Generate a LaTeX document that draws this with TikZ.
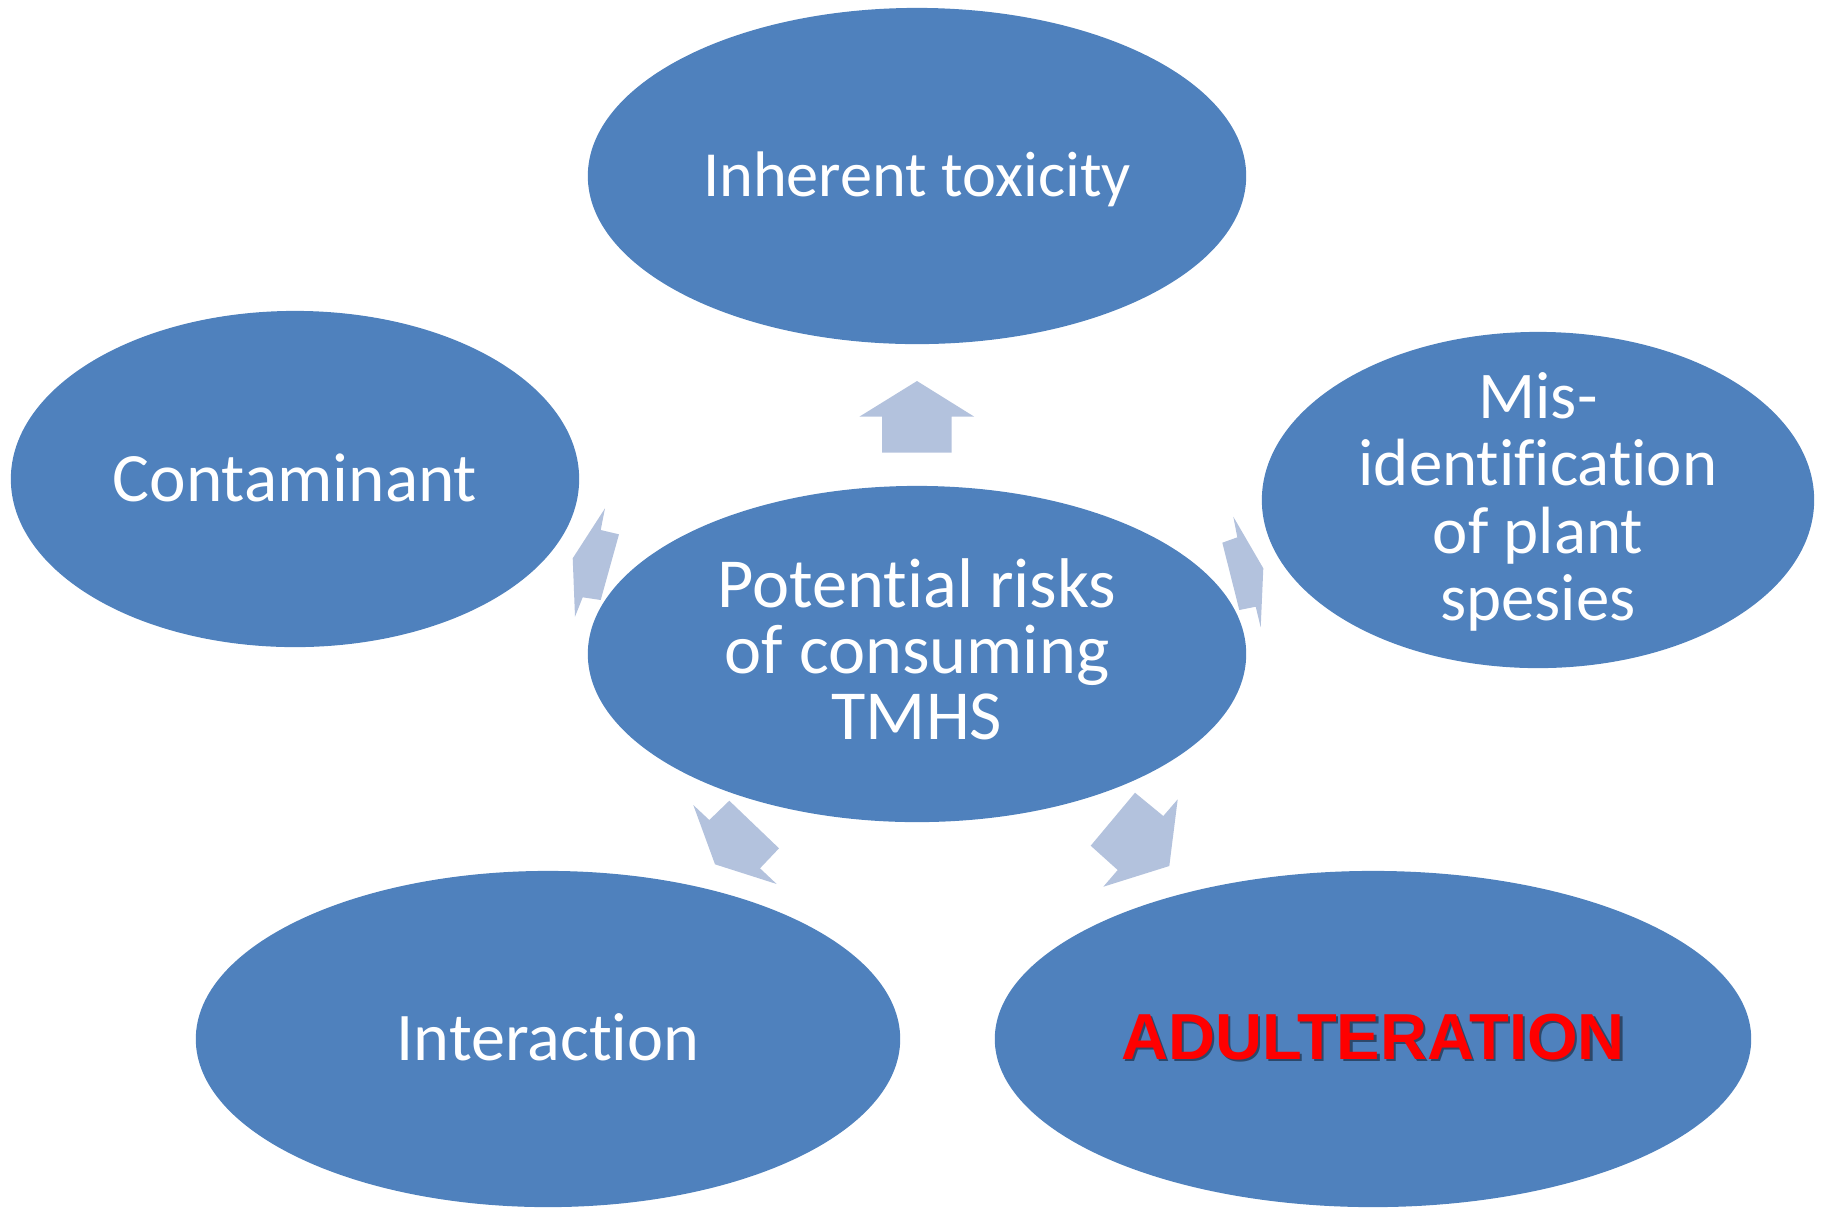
\documentclass[tikz,border=0pt]{standalone}
\usepackage{fontspec}
\setmainfont{Carlito}[Ligatures=NoCommon]
\newfontfamily\arialfont{Liberation Sans}
\usetikzlibrary{shapes.geometric}

\definecolor{riskblue}{RGB}{79,129,189}
\definecolor{arrowblue}{RGB}{179,194,221}

\tikzset{
  risk/.style={ellipse, fill=riskblue, inner sep=0pt, minimum height=3.36cm},
  risktext/.style={text=white, align=center, inner sep=0pt,
    font=\fontsize{20}{18.8}\selectfont},
  blockarrow/.style={fill=arrowblue}
}

\begin{document}
\begin{tikzpicture}[x=0.01cm, y=-0.01cm]

\useasboundingbox (0,0) rectangle (1824,1208);

% Ellipses
\node [risk, minimum width=6.58cm] (toxic) at (917,176) {};
\node [risk, minimum width=6.58cm] (risks) at (917,654) {};
\node [risk, minimum width=5.68cm] (contam) at (295,479) {};
\node [risk, minimum width=5.52cm] (misid) at (1538,500) {};
\node [risk, minimum width=7.04cm] (inter) at (548,1039) {};
\node [risk, minimum width=7.56cm] (adult) at (1373,1039) {};

% Texts
\node [risktext, font=\fontsize{18.3}{20}\selectfont] (toxictext) at (917,179) {Inherent toxicity};
\node [risktext] (riskstext) at (917,649) {Potential risks\\of consuming\\TMHS};
\node [risktext, font=\fontsize{19.7}{20}\selectfont] (contamtext) at (295,478) {Contaminant};
\node [risktext, font=\fontsize{19}{19.2}\selectfont] (misidtext) at (1538,502) {Mis-\\identification\\of plant\\spesies};
\node [risktext, font=\fontsize{19.4}{20}\selectfont] (intertext) at (548,1037) {Interaction};

\node [text=black!80!riskblue, opacity=0.55, font=\arialfont\bfseries\fontsize{18.5}{20}\selectfont] (adultshadow) at (1375.5,1039.5) {ADULTERATION};
\node [text=red, font=\arialfont\bfseries\fontsize{18.5}{20}\selectfont] (adulttext) at (1373,1037) {ADULTERATION};

% Arrows
\fill [blockarrow] (917,381)--(974.3,416.7)--(951.7,416.7)--(951.7,452.7)--(882,452.7)--(882,416.7)--(859.3,416.7)--cycle;
\fill [blockarrow] (572.7,558.3)--(605,508.3)--(600.7,530)--(619,534.3)--(600.7,600)--(582.7,597.3)--(575,616.7)--cycle;
\fill [blockarrow] (1263.3,568.3)--(1233.3,516.7)--(1237.3,537.3)--(1222.3,542.7)--(1239.3,610)--(1255.7,606.7)--(1260.7,627.3)--cycle;
\fill [blockarrow] (715,864.3)--(693.3,805)--(709.3,820)--(729.3,800.7)--(779,848.3)--(760,868.3)--(776.7,884)--cycle;
\fill [blockarrow] (1169.3,866)--(1177.7,799.3)--(1163.3,816)--(1135,792.7)--(1090.7,845.7)--(1117.7,870)--(1103.3,886.7)--cycle;

\end{tikzpicture}
\end{document}
